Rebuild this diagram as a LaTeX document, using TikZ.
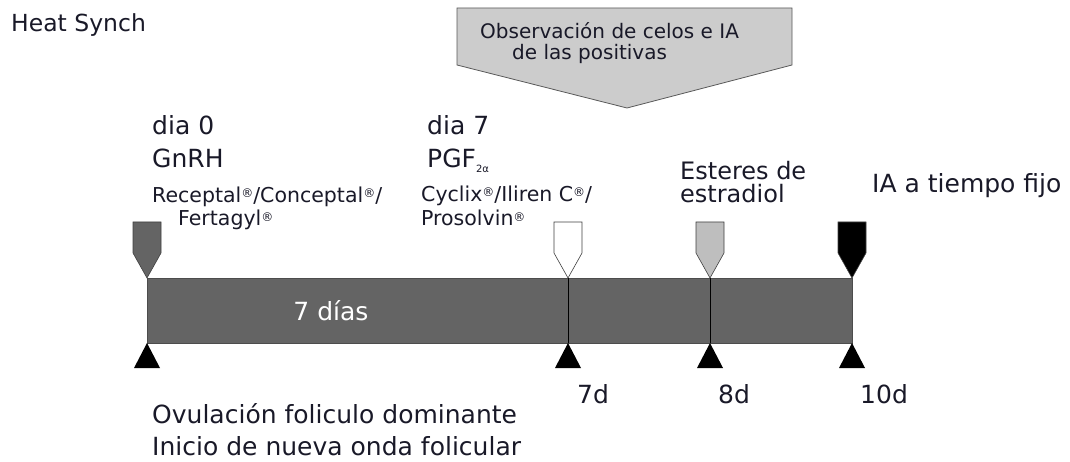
\documentclass[tikz,border=0pt]{standalone}
\usepackage{fontspec}
\setmainfont{DejaVu Sans}
\newcommand{\rg}{\raisebox{5pt}{\fontsize{12}{12}\selectfont ®}}
\definecolor{bargray}{RGB}{100,100,100}
\definecolor{lightmk}{RGB}{190,190,190}
\definecolor{callgray}{RGB}{204,204,204}
\definecolor{txt}{RGB}{25,25,40}
\tikzset{
  lbl/.style={anchor=base west,inner sep=0pt,text=txt,font=\fontsize{25}{25}\selectfont},
  sml/.style={anchor=base west,inner sep=0pt,text=txt,font=\fontsize{20.5}{20.5}\selectfont},
  pics/marker/.style={code={
    \fill[#1] (-14,-56) -- (14,-56) -- (14,-25) -- (0,0) -- (-14,-25) -- cycle;
    \draw[black!75,line width=0.6pt] (-14,-56) -- (14,-56) -- (14,-25) -- (0,0) -- (-14,-25) -- cycle;
  }},
  pics/tick/.style={code={
    \fill[black] (0,0) -- (13,25) -- (-13,25) -- cycle;
  }}
}
\begin{document}
\begin{tikzpicture}[x=1pt,y=-1pt]
\useasboundingbox (0,0) rectangle (1070,462);
% bar
\coordinate (b0) at (147,278);
\coordinate (b7) at (568,278);
\coordinate (b8) at (710,278);
\coordinate (b10) at (852,278);
\coordinate (e10) at (852,343);
\fill[bargray] (b0) rectangle (e10);
\draw[black!70,line width=0.8pt] (b0) rectangle (e10);
\draw[black,line width=0.8pt] (b7) -- ++(0,65);
\draw[black,line width=0.8pt] (b8) -- ++(0,65);
\node[anchor=base,inner sep=0pt,text=white,font=\fontsize{25}{25}\selectfont] (siete) at (331,320) {7 días};
% markers
\pic at (b0) {marker=bargray};
\pic at (b7) {marker=white};
\pic at (b8) {marker=lightmk};
\pic at (b10) {marker=black};
% ticks
\pic at (147,343) {tick};
\pic at (568,343) {tick};
\pic at (710,343) {tick};
\pic at (852,343) {tick};
% callout
\filldraw[fill=callgray,draw=black!65,line width=0.8pt] (457,8) -- (792,8) -- (792,65) -- (627,108) -- (457,65) -- cycle;
\node[sml,font=\fontsize{20}{20}\selectfont] (obs1) at (480,39) {Observación de celos e IA};
\node[sml,font=\fontsize{20}{20}\selectfont] (obs2) at (512,60) {de las positivas};
% texts
\node[sml,font=\fontsize{23.5}{23.5}\selectfont] (title) at (11,32) {Heat Synch};
\node[lbl] (d0) at (152,135) {dia 0};
\node[lbl] (gnrh) at (152,168) {GnRH};
\node[sml] (rec) at (152,203) {Receptal\rg/Conceptal\rg/};
\node[sml] (fer) at (178,226) {Fertagyl\rg};
\node[lbl] (d7) at (427,135) {dia 7};
\node[lbl] (pgf) at (427,168) {PGF\raisebox{-5pt}{\fontsize{10}{10}\selectfont 2α}};
\node[sml] (cyc) at (421,202) {Cyclix\rg/Iliren C\rg/};
\node[sml] (pro) at (421,226) {Prosolvin\rg};
\node[lbl,font=\fontsize{24}{24}\selectfont] (est1) at (680,180) {Esteres de};
\node[lbl,font=\fontsize{24}{24}\selectfont] (est2) at (680,203) {estradiol};
\node[lbl] (ia) at (872,193) {IA a tiempo fijo};
\node[lbl] (l7) at (577,403) {7d};
\node[lbl] (l8) at (718,403) {8d};
\node[lbl] (l10) at (860,403) {10d};
\node[lbl] (ovu) at (152,423) {Ovulación foliculo dominante};
\node[lbl] (ini) at (152,455) {Inicio de nueva onda folicular};
\end{tikzpicture}
\end{document}
